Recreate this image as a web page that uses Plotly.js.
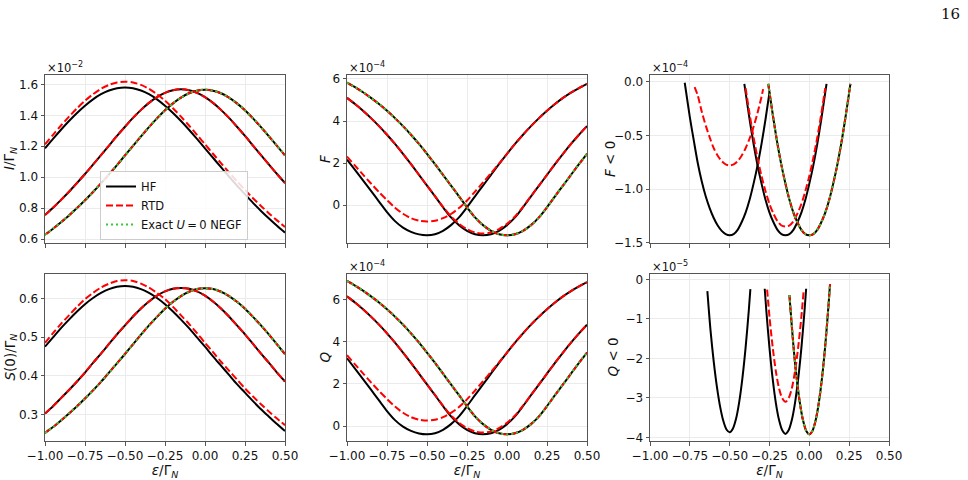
<!DOCTYPE html>
<html>
<head>
<meta charset="utf-8">
<script src="https://cdn.plot.ly/plotly-3.0.1.min.js"></script>
<style>
  html, body { margin: 0; padding: 0; background: #ffffff; }
  #fig { width: 968px; height: 480px; }
</style>
</head>
<body>
<div id="fig"></div>
<script>
// Level position sweep, eps / Gamma_N
const eps = [-1.00,-0.95,-0.90,-0.85,-0.80,-0.75,-0.70,-0.65,-0.60,-0.55,-0.50,-0.45,-0.40,-0.35,-0.30,-0.25,-0.20,-0.15,-0.10,-0.05,0.00,0.05,0.10,0.15,0.20,0.25,0.30,0.35,0.40,0.45,0.50];

// Current I / Gamma_N (x 1e-2); A, B, C are the three interaction strengths (C is U = 0)
const curHF_A  = [1.187,1.248,1.307,1.363,1.415,1.462,1.503,1.536,1.560,1.575,1.580,1.575,1.560,1.536,1.503,1.462,1.415,1.363,1.307,1.248,1.187,1.126,1.065,1.005,0.946,0.890,0.835,0.783,0.734,0.687,0.643];
const curHF_B  = [0.756,0.803,0.854,0.907,0.963,1.021,1.082,1.143,1.205,1.267,1.326,1.383,1.435,1.480,1.517,1.545,1.562,1.568,1.562,1.545,1.517,1.480,1.435,1.383,1.326,1.267,1.205,1.143,1.082,1.021,0.963];
const curHF_C  = [0.629,0.668,0.710,0.754,0.802,0.852,0.905,0.961,1.019,1.079,1.141,1.203,1.264,1.324,1.380,1.432,1.477,1.514,1.542,1.559,1.565,1.559,1.542,1.514,1.477,1.432,1.380,1.324,1.264,1.203,1.141];
const curRTD_A = [1.213,1.274,1.334,1.391,1.445,1.494,1.536,1.571,1.596,1.612,1.617,1.612,1.596,1.571,1.536,1.494,1.445,1.391,1.334,1.274,1.213,1.152,1.091,1.032,0.974,0.918,0.865,0.815,0.767,0.722,0.679];
const curRTD_B = [0.756,0.803,0.854,0.907,0.963,1.021,1.082,1.143,1.205,1.267,1.326,1.383,1.435,1.480,1.517,1.545,1.562,1.568,1.562,1.545,1.517,1.480,1.435,1.383,1.326,1.267,1.205,1.143,1.082,1.021,0.963];
const curRTD_C = [0.629,0.668,0.710,0.754,0.802,0.852,0.905,0.961,1.019,1.079,1.141,1.203,1.264,1.324,1.380,1.432,1.477,1.514,1.542,1.559,1.565,1.559,1.542,1.514,1.477,1.432,1.380,1.324,1.264,1.203,1.141];
const curExact = [0.629,0.668,0.710,0.754,0.802,0.852,0.905,0.961,1.019,1.079,1.141,1.203,1.264,1.324,1.380,1.432,1.477,1.514,1.542,1.559,1.565,1.559,1.542,1.514,1.477,1.432,1.380,1.324,1.264,1.203,1.141];

// Zero-frequency noise S(0) / Gamma_N
const noiseHF_A  = [0.475,0.499,0.523,0.545,0.566,0.585,0.601,0.614,0.624,0.630,0.632,0.630,0.624,0.614,0.601,0.585,0.566,0.545,0.523,0.499,0.475,0.450,0.426,0.402,0.378,0.356,0.334,0.313,0.294,0.275,0.257];
const noiseHF_B  = [0.302,0.321,0.342,0.363,0.385,0.408,0.433,0.457,0.482,0.507,0.530,0.553,0.574,0.592,0.607,0.618,0.625,0.627,0.625,0.618,0.607,0.592,0.574,0.553,0.530,0.507,0.482,0.457,0.433,0.408,0.385];
const noiseHF_C  = [0.252,0.267,0.284,0.302,0.321,0.341,0.362,0.384,0.408,0.432,0.456,0.481,0.506,0.530,0.552,0.573,0.591,0.606,0.617,0.624,0.626,0.624,0.617,0.606,0.591,0.573,0.552,0.530,0.506,0.481,0.456];
const noiseRTD_A = [0.485,0.510,0.534,0.556,0.578,0.598,0.614,0.628,0.638,0.645,0.647,0.645,0.638,0.628,0.614,0.598,0.578,0.556,0.534,0.510,0.485,0.461,0.436,0.413,0.390,0.367,0.346,0.326,0.307,0.289,0.272];
const noiseRTD_B = [0.302,0.321,0.342,0.363,0.385,0.408,0.433,0.457,0.482,0.507,0.530,0.553,0.574,0.592,0.607,0.618,0.625,0.627,0.625,0.618,0.607,0.592,0.574,0.553,0.530,0.507,0.482,0.457,0.433,0.408,0.385];
const noiseRTD_C = [0.252,0.267,0.284,0.302,0.321,0.341,0.362,0.384,0.408,0.432,0.456,0.481,0.506,0.530,0.552,0.573,0.591,0.606,0.617,0.624,0.626,0.624,0.617,0.606,0.591,0.573,0.552,0.530,0.506,0.481,0.456];
const noiseExact = [0.252,0.267,0.284,0.302,0.321,0.341,0.362,0.384,0.408,0.432,0.456,0.481,0.506,0.530,0.552,0.573,0.591,0.606,0.617,0.624,0.626,0.624,0.617,0.606,0.591,0.573,0.552,0.530,0.506,0.481,0.456];

// F (x 1e-4)
const fanoHF_A  = [2.17,1.68,1.18,0.68,0.17,-0.33,-0.76,-1.07,-1.27,-1.39,-1.43,-1.38,-1.22,-0.95,-0.58,-0.10,0.42,0.93,1.44,1.95,2.44,2.91,3.35,3.76,4.14,4.49,4.81,5.10,5.35,5.57,5.77];
const fanoHF_B  = [5.10,4.81,4.49,4.14,3.76,3.35,2.91,2.44,1.95,1.44,0.93,0.42,-0.10,-0.58,-0.95,-1.22,-1.38,-1.43,-1.38,-1.22,-0.95,-0.58,-0.10,0.42,0.93,1.44,1.95,2.44,2.91,3.35,3.76];
const fanoHF_C  = [5.83,5.61,5.37,5.10,4.81,4.49,4.14,3.76,3.35,2.91,2.44,1.95,1.44,0.93,0.42,-0.10,-0.58,-0.95,-1.22,-1.38,-1.43,-1.38,-1.22,-0.95,-0.58,-0.10,0.42,0.93,1.44,1.95,2.44];
const fanoRTD_A = [2.31,1.88,1.45,1.03,0.62,0.24,-0.12,-0.41,-0.62,-0.74,-0.78,-0.74,-0.62,-0.42,-0.14,0.22,0.64,1.08,1.52,1.97,2.44,2.91,3.35,3.76,4.14,4.49,4.81,5.10,5.35,5.57,5.77];
const fanoRTD_B = [5.10,4.81,4.49,4.14,3.76,3.35,2.91,2.44,1.95,1.44,0.93,0.43,-0.08,-0.54,-0.89,-1.14,-1.30,-1.35,-1.30,-1.14,-0.89,-0.54,-0.08,0.43,0.93,1.44,1.95,2.44,2.91,3.35,3.76];
const fanoRTD_C = [5.83,5.61,5.37,5.10,4.81,4.49,4.14,3.76,3.35,2.91,2.44,1.95,1.44,0.93,0.42,-0.10,-0.58,-0.95,-1.22,-1.38,-1.43,-1.38,-1.22,-0.95,-0.58,-0.10,0.42,0.93,1.44,1.95,2.44];
const fanoExact = [5.83,5.61,5.37,5.10,4.81,4.49,4.14,3.76,3.35,2.91,2.44,1.95,1.44,0.93,0.42,-0.10,-0.58,-0.95,-1.22,-1.38,-1.43,-1.38,-1.22,-0.95,-0.58,-0.10,0.42,0.93,1.44,1.95,2.44];

// Q (x 1e-4)
const qHF_A  = [3.21,2.72,2.22,1.72,1.21,0.71,0.28,-0.03,-0.23,-0.35,-0.39,-0.34,-0.18,0.09,0.46,0.94,1.46,1.97,2.48,2.99,3.48,3.95,4.39,4.80,5.18,5.53,5.85,6.14,6.39,6.61,6.81];
const qHF_B  = [6.14,5.85,5.53,5.18,4.80,4.39,3.95,3.48,2.99,2.48,1.97,1.46,0.94,0.46,0.09,-0.18,-0.34,-0.39,-0.34,-0.18,0.09,0.46,0.94,1.46,1.97,2.48,2.99,3.48,3.95,4.39,4.80];
const qHF_C  = [6.87,6.65,6.41,6.14,5.85,5.53,5.18,4.80,4.39,3.95,3.48,2.99,2.48,1.97,1.46,0.94,0.46,0.09,-0.18,-0.34,-0.39,-0.34,-0.18,0.09,0.46,0.94,1.46,1.97,2.48,2.99,3.48];
const qRTD_A = [3.35,2.92,2.49,2.07,1.66,1.28,0.92,0.63,0.42,0.30,0.26,0.30,0.42,0.62,0.90,1.26,1.68,2.12,2.56,3.01,3.48,3.95,4.39,4.80,5.18,5.53,5.85,6.14,6.39,6.61,6.81];
const qRTD_B = [6.14,5.85,5.53,5.18,4.80,4.39,3.95,3.48,2.99,2.48,1.97,1.47,0.96,0.50,0.15,-0.10,-0.26,-0.31,-0.26,-0.10,0.15,0.50,0.96,1.47,1.97,2.48,2.99,3.48,3.95,4.39,4.80];
const qRTD_C = [6.87,6.65,6.41,6.14,5.85,5.53,5.18,4.80,4.39,3.95,3.48,2.99,2.48,1.97,1.46,0.94,0.46,0.09,-0.18,-0.34,-0.39,-0.34,-0.18,0.09,0.46,0.94,1.46,1.97,2.48,2.99,3.48];
const qExact = [6.87,6.65,6.41,6.14,5.85,5.53,5.18,4.80,4.39,3.95,3.48,2.99,2.48,1.97,1.46,0.94,0.46,0.09,-0.18,-0.34,-0.39,-0.34,-0.18,0.09,0.46,0.94,1.46,1.97,2.48,2.99,3.48];

// Negative-F windows (x 1e-4), finer sampling
const fNegEpsHF_A = [-0.782,-0.775,-0.75,-0.725,-0.70,-0.675,-0.65,-0.625,-0.60,-0.575,-0.55,-0.525,-0.50,-0.475,-0.45,-0.425,-0.40,-0.375,-0.35,-0.325,-0.30,-0.275,-0.25];
const fNegHF_A    = [-0.01,-0.08,-0.33,-0.55,-0.76,-0.93,-1.07,-1.18,-1.27,-1.34,-1.39,-1.42,-1.43,-1.42,-1.38,-1.31,-1.22,-1.10,-0.95,-0.78,-0.58,-0.35,-0.10];
const fNegEpsHF_B = [-0.408,-0.40,-0.375,-0.35,-0.325,-0.30,-0.275,-0.25,-0.225,-0.20,-0.175,-0.15,-0.125,-0.10,-0.075,-0.05,-0.025,0.00,0.025,0.05,0.075,0.10,0.108];
const fNegHF_B    = [-0.02,-0.10,-0.35,-0.58,-0.78,-0.95,-1.10,-1.22,-1.31,-1.38,-1.42,-1.43,-1.42,-1.38,-1.31,-1.22,-1.10,-0.95,-0.78,-0.58,-0.35,-0.10,-0.02];
const fNegEpsC    = [-0.258,-0.25,-0.225,-0.20,-0.175,-0.15,-0.125,-0.10,-0.075,-0.05,-0.025,0.00,0.025,0.05,0.075,0.10,0.125,0.15,0.175,0.20,0.225,0.25,0.258];
const fNegHF_C    = [-0.02,-0.10,-0.35,-0.58,-0.78,-0.95,-1.10,-1.22,-1.31,-1.38,-1.42,-1.43,-1.42,-1.38,-1.31,-1.22,-1.10,-0.95,-0.78,-0.58,-0.35,-0.10,-0.02];
const fNegEpsRTD_A = [-0.72,-0.70,-0.675,-0.65,-0.625,-0.60,-0.575,-0.55,-0.525,-0.50,-0.475,-0.45,-0.425,-0.40,-0.375,-0.35,-0.325,-0.30,-0.29];
const fNegRTD_A    = [-0.05,-0.13,-0.28,-0.41,-0.52,-0.62,-0.69,-0.74,-0.77,-0.78,-0.77,-0.74,-0.69,-0.62,-0.53,-0.42,-0.29,-0.14,-0.07];
const fNegEpsRTD_B = [-0.40,-0.375,-0.35,-0.325,-0.30,-0.275,-0.25,-0.225,-0.20,-0.175,-0.15,-0.125,-0.10,-0.075,-0.05,-0.025,0.00,0.025,0.05,0.075,0.10];
const fNegRTD_B    = [-0.06,-0.30,-0.52,-0.71,-0.88,-1.02,-1.14,-1.23,-1.30,-1.34,-1.35,-1.34,-1.30,-1.23,-1.14,-1.02,-0.88,-0.71,-0.52,-0.30,-0.06];
const fNegRTD_C    = [-0.02,-0.10,-0.35,-0.58,-0.78,-0.95,-1.10,-1.22,-1.31,-1.38,-1.42,-1.43,-1.42,-1.38,-1.31,-1.22,-1.10,-0.95,-0.78,-0.58,-0.35,-0.10,-0.02];
const fNegExact    = [-0.02,-0.10,-0.35,-0.58,-0.78,-0.95,-1.10,-1.22,-1.31,-1.38,-1.42,-1.43,-1.42,-1.38,-1.31,-1.22,-1.10,-0.95,-0.78,-0.58,-0.35,-0.10,-0.02];

// Negative-Q windows (x 1e-5)
const qNegEpsHF_A = [-0.64,-0.62,-0.60,-0.58,-0.56,-0.54,-0.52,-0.50,-0.48,-0.46,-0.44,-0.42,-0.40,-0.38,-0.37];
const qNegHF_A    = [-0.30,-1.30,-2.08,-2.72,-3.22,-3.58,-3.80,-3.87,-3.78,-3.53,-3.10,-2.50,-1.73,-0.79,-0.25];
const qNegEpsHF_B = [-0.28,-0.27,-0.25,-0.23,-0.21,-0.19,-0.17,-0.15,-0.13,-0.11,-0.09,-0.07,-0.05,-0.03,-0.02];
const qNegHF_B    = [-0.24,-0.79,-1.74,-2.52,-3.13,-3.56,-3.82,-3.91,-3.82,-3.56,-3.13,-2.52,-1.74,-0.79,-0.24];
const qNegEpsC    = [-0.125,-0.10,-0.08,-0.06,-0.04,-0.02,0.00,0.02,0.04,0.06,0.08,0.10,0.12,0.13];
const qNegHF_C    = [-0.40,-1.67,-2.48,-3.11,-3.56,-3.83,-3.92,-3.83,-3.56,-3.11,-2.48,-1.67,-0.68,-0.12];
const qNegEpsRTD_B = [-0.265,-0.25,-0.23,-0.21,-0.19,-0.17,-0.15,-0.13,-0.11,-0.09,-0.07,-0.05,-0.035];
const qNegRTD_B    = [-0.26,-0.95,-1.72,-2.33,-2.76,-3.01,-3.10,-3.01,-2.76,-2.33,-1.72,-0.95,-0.26];
const qNegRTD_C    = [-0.40,-1.67,-2.48,-3.11,-3.56,-3.83,-3.92,-3.83,-3.56,-3.11,-2.48,-1.67,-0.68,-0.12];
const qNegExact    = [-0.40,-1.67,-2.48,-3.11,-3.56,-3.83,-3.92,-3.83,-3.56,-3.11,-2.48,-1.67,-0.68,-0.12];

// Tick positions
const epsTicks = [-1.00,-0.75,-0.50,-0.25,0.00,0.25,0.50];
const curTicks = [0.6,0.8,1.0,1.2,1.4,1.6];
const fanoTicks = [0,2,4,6];
const fNegTicks = [-1.5,-1.0,-0.5,0.0];
const noiseTicks = [0.3,0.4,0.5,0.6];
const qTicks = [0,2,4,6];
const qNegTicks = [-4,-3,-2,-1,0];

const seriesNames = ['HF','RTD','Exact <i>U</i>\u2009=\u20090 NEGF'];

// ---- styling ----
const FONT = 'DejaVu Sans, sans-serif';
const styleHF = {color:'#000000', width:2, dash:'solid'};
const styleRTD = {color:'#ff0000', width:2, dash:'7px,3px'};
const styleEX = {color:'#33cc33', width:2, dash:'2px,3px'};

const traces = [];
function addPanel(n, hf, rtd, ex, withLegend) {
  const xa = n === 1 ? 'x' : 'x' + n;
  const ya = n === 1 ? 'y' : 'y' + n;
  hf.forEach((s, i) => traces.push({
    x: s[0], y: s[1], xaxis: xa, yaxis: ya, mode: 'lines', type: 'scatter',
    line: Object.assign({shape:'spline', smoothing:0.8}, styleHF),
    name: seriesNames[0], showlegend: withLegend && i === 0, hoverinfo: 'skip'
  }));
  rtd.forEach((s, i) => traces.push({
    x: s[0], y: s[1], xaxis: xa, yaxis: ya, mode: 'lines', type: 'scatter',
    line: Object.assign({shape:'spline', smoothing:0.8}, styleRTD),
    name: seriesNames[1], showlegend: withLegend && i === 0, hoverinfo: 'skip'
  }));
  ex.forEach((s, i) => traces.push({
    x: s[0], y: s[1], xaxis: xa, yaxis: ya, mode: 'lines', type: 'scatter',
    line: Object.assign({shape:'spline', smoothing:0.8}, styleEX),
    name: seriesNames[2], showlegend: withLegend && i === 0, hoverinfo: 'skip'
  }));
}

addPanel(1,
  [[eps, curHF_A], [eps, curHF_B], [eps, curHF_C]],
  [[eps, curRTD_A], [eps, curRTD_B], [eps, curRTD_C]],
  [[eps, curExact]], true);
addPanel(2,
  [[eps, fanoHF_A], [eps, fanoHF_B], [eps, fanoHF_C]],
  [[eps, fanoRTD_A], [eps, fanoRTD_B], [eps, fanoRTD_C]],
  [[eps, fanoExact]], false);
addPanel(3,
  [[fNegEpsHF_A, fNegHF_A], [fNegEpsHF_B, fNegHF_B], [fNegEpsC, fNegHF_C]],
  [[fNegEpsRTD_A, fNegRTD_A], [fNegEpsRTD_B, fNegRTD_B], [fNegEpsC, fNegRTD_C]],
  [[fNegEpsC, fNegExact]], false);
addPanel(4,
  [[eps, noiseHF_A], [eps, noiseHF_B], [eps, noiseHF_C]],
  [[eps, noiseRTD_A], [eps, noiseRTD_B], [eps, noiseRTD_C]],
  [[eps, noiseExact]], false);
addPanel(5,
  [[eps, qHF_A], [eps, qHF_B], [eps, qHF_C]],
  [[eps, qRTD_A], [eps, qRTD_B], [eps, qRTD_C]],
  [[eps, qExact]], false);
addPanel(6,
  [[qNegEpsHF_A, qNegHF_A], [qNegEpsHF_B, qNegHF_B], [qNegEpsC, qNegHF_C]],
  [[qNegEpsRTD_B, qNegRTD_B], [qNegEpsC, qNegRTD_C]],
  [[qNegEpsC, qNegExact]], false);

// ---- axes ----
const W = 968, H = 480;
const cols = [[45, 285], [347, 587], [650, 889]];
const rows = [[75, 243], [274, 441]];
const frame = '#555555';
const grid = '#ebebeb';
const tickFont = {family: FONT, size: 12, color: '#111'};
const titleFont = {family: FONT, size: 13.5, color: '#111'};

function xAxis(col, row, showLabels, anchor) {
  const a = {
    domain: [cols[col][0] / W, cols[col][1] / W],
    anchor: anchor, range: [-1, 0.5],
    tickmode: 'array', tickvals: epsTicks, tickformat: '.2f', tickangle: 0,
    showticklabels: showLabels,
    ticks: 'outside', ticklen: 3.5, tickwidth: 1, tickcolor: frame,
    showline: true, mirror: true, linecolor: frame, linewidth: 1,
    showgrid: true, gridcolor: grid, gridwidth: 1, zeroline: false,
    tickfont: tickFont
  };
  if (showLabels) {
    a.title = {text: '<i>ε</i>/Γ<sub><i>N</i></sub>', font: titleFont, standoff: 0};
  }
  return a;
}
function yAxis(col, row, range, ticks, fmt, anchor) {
  return {
    domain: [1 - rows[row][1] / H, 1 - rows[row][0] / H],
    anchor: anchor, range: range,
    tickmode: 'array', tickvals: ticks, tickformat: fmt, tickangle: 0,
    ticks: 'outside', ticklen: 3.5, tickwidth: 1, tickcolor: frame,
    showline: true, mirror: true, linecolor: frame, linewidth: 1,
    showgrid: true, gridcolor: grid, gridwidth: 1, zeroline: false,
    tickfont: tickFont
  };
}

// vertical axis labels, set beside each panel's tick labels
function yLabel(text, px, row) {
  const mid = (rows[row][0] + rows[row][1]) / 2;
  return {text: text, xref: 'paper', yref: 'paper', x: px / W, y: 1 - mid / H,
          xanchor: 'center', yanchor: 'middle', textangle: -90, showarrow: false, font: titleFont};
}

const offsetFont = {family: FONT, size: 11.5, color: '#111'};
function offsetNote(text, px, py) {
  return {text: text, xref: 'paper', yref: 'paper', x: px / W, y: 1 - py / H,
          xanchor: 'left', yanchor: 'middle', showarrow: false, font: offsetFont};
}

const layout = {
  width: W, height: H,
  margin: {l: 0, r: 0, t: 0, b: 0},
  paper_bgcolor: '#ffffff', plot_bgcolor: '#ffffff',
  showlegend: true,
  legend: {
    x: 100 / W, y: 1 - 240 / H, xanchor: 'left', yanchor: 'bottom',
    bgcolor: 'rgba(255,255,255,0.85)', bordercolor: '#cccccc', borderwidth: 1,
    font: {family: FONT, size: 11.5, color: '#111'},
    itemwidth: 30, tracegroupgap: 0
  },
  xaxis:  xAxis(0, 0, false, 'y'),
  xaxis2: xAxis(1, 0, false, 'y2'),
  xaxis3: xAxis(2, 0, false, 'y3'),
  xaxis4: xAxis(0, 1, true, 'y4'),
  xaxis5: xAxis(1, 1, true, 'y5'),
  xaxis6: xAxis(2, 1, true, 'y6'),
  yaxis:  yAxis(0, 0, [0.576, 1.66], curTicks, '.1f', 'x'),
  yaxis2: yAxis(1, 0, [-1.80, 6.19], fanoTicks, 'd', 'x2'),
  yaxis3: yAxis(2, 0, [-1.503, 0.062], fNegTicks, '.1f', 'x3'),
  yaxis4: yAxis(0, 1, [0.231, 0.663], noiseTicks, '.1f', 'x4'),
  yaxis5: yAxis(1, 1, [-0.71, 7.20], qTicks, 'd', 'x5'),
  yaxis6: yAxis(2, 1, [-4.09, 0.134], qNegTicks, 'd', 'x6'),
  annotations: [
    yLabel('<i>I</i>/Γ<sub><i>N</i></sub>', 10, 0),
    yLabel('<i>F</i>', 325, 0),
    yLabel('<i>F</i> &lt; 0', 610, 0),
    yLabel('<i>S</i>(0)/Γ<sub><i>N</i></sub>', 10, 1),
    yLabel('<i>Q</i>', 324, 1),
    yLabel('<i>Q</i> &lt; 0', 612, 1),
    offsetNote('×10<sup>−2</sup>', 45, 67),
    offsetNote('×10<sup>−4</sup>', 347, 67),
    offsetNote('×10<sup>−4</sup>', 650, 67),
    offsetNote('×10<sup>−4</sup>', 347, 266),
    offsetNote('×10<sup>−5</sup>', 650, 266),
    {text: '16', xref: 'paper', yref: 'paper', x: 962 / W, y: 1 - 14 / H,
     xanchor: 'right', yanchor: 'middle', showarrow: false,
     font: {family: 'DejaVu Serif, serif', size: 15, color: '#111'}}
  ]
};

Plotly.newPlot('fig', traces, layout, {staticPlot: true, displayModeBar: false});
</script>
</body>
</html>
